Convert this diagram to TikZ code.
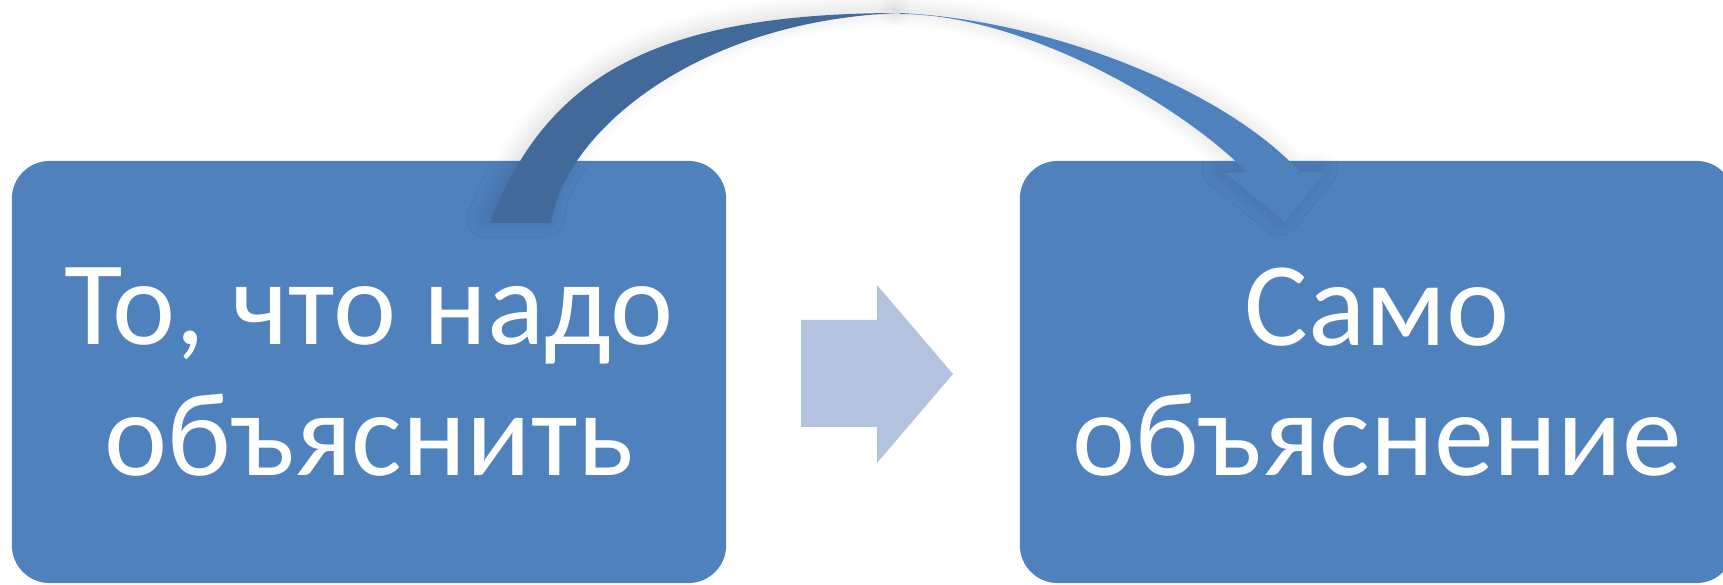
\documentclass[tikz,border=0pt]{standalone}
\usepackage{fontspec}
\setmainfont{Carlito}
\usetikzlibrary{shadows.blur}
\definecolor{boxblue}{HTML}{4F81BD}
\definecolor{paleblue}{HTML}{B3C2DE}
\definecolor{darkblue}{HTML}{416999}

\begin{document}
\begin{tikzpicture}[x=0.01cm,y=-0.01cm,
					box/.style={fill=boxblue,rounded corners=0.38cm,
						minimum width=7.14cm,minimum height=4.22cm,inner sep=0pt,
						text=white,align=center,font=\fontsize{34pt}{37pt}\selectfont},
					ribbon shadow/.style={blur shadow={shadow xshift=-1.5pt,shadow yshift=1pt,
						shadow blur radius=5pt,shadow blur steps=12,shadow opacity=14}}]
				\useasboundingbox (0,0) rectangle (1723,585);
				\node[box] (what) at (369,372) {То, что надо\\объяснить};
				\node[box] (self) at (1377,372) {Само\\объяснение};
				% block arrow between the boxes
				\fill[paleblue] (801,320) -- (877,320) -- (877,285) -- (953,374)
					-- (877,463) -- (877,427) -- (801,427) -- cycle;
				% curved ribbon from (what) to (self)
				\coordinate (tail) at (490,223);
				\coordinate (top) at (900,13);
				\coordinate (head) at (1285,222);
				\fill[darkblue,ribbon shadow] (tail) .. controls (545,80) and (650,13) .. (top)
					.. controls (700,20) and (565,130) .. (551,223) -- cycle;
				\fill[boxblue,ribbon shadow] (top) .. controls (1050,20) and (1225,90) .. (1300,172)
					-- (1325,172) -- (head) -- (1225,173) -- (1247,172)
					.. controls (1175,100) and (1020,14) .. (900,14) -- cycle;
			\end{tikzpicture}
\end{document}
